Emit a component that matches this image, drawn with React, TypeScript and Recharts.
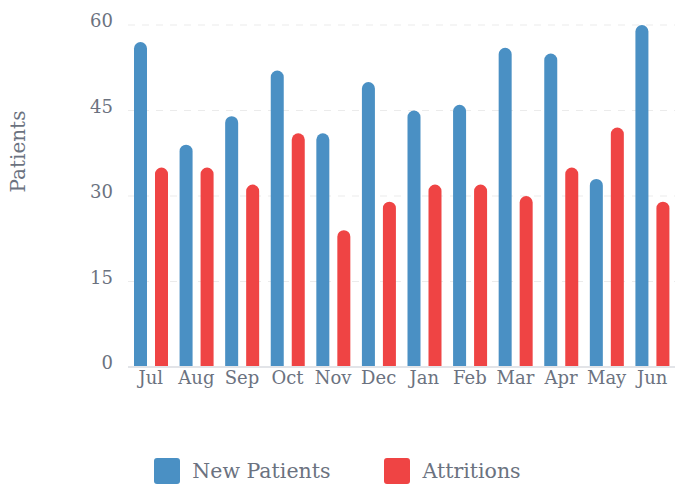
import { Bar, BarChart, CartesianGrid, Legend, XAxis, YAxis } from "recharts";

const months = ["Jul", "Aug", "Sep", "Oct", "Nov", "Dec", "Jan", "Feb", "Mar", "Apr", "May", "Jun"];
const newPatients = [57, 39, 44, 52, 41, 50, 45, 46, 56, 55, 33, 60];
const attritions = [35, 35, 32, 41, 24, 29, 32, 32, 30, 35, 42, 29];
const yTicks = [0, 15, 30, 45, 60];
const legendOrder = ["New Patients", "Attritions"];

const data = months.map((month, i) => ({
  month,
  newPatients: newPatients[i],
  attritions: attritions[i],
}));

const textColor = "#6b7280";
const font = "DejaVu Serif";

const renderLegend = (props: any) => {
  const payload = [...(props.payload || [])].sort(
    (a: any, b: any) => legendOrder.indexOf(a.value) - legendOrder.indexOf(b.value)
  );
  return (
    <div
      style={{
        height: 87,
        display: "flex",
        alignItems: "flex-end",
        justifyContent: "center",
        gap: 54,
        fontFamily: font,
      }}
    >
      {payload.map((entry: any) => (
        <div key={entry.value} style={{ display: "flex", alignItems: "center" }}>
          <span
            style={{
              width: 26,
              height: 26,
              borderRadius: 3,
              background: entry.color,
              marginRight: 12,
              display: "inline-block",
            }}
          />
          <span style={{ color: textColor, fontSize: 20.5 }}>{entry.value}</span>
        </div>
      ))}
    </div>
  );
};

const renderYLabel = (props: any) => {
  const { viewBox } = props;
  const x = viewBox.x + 18;
  const y = viewBox.y + viewBox.height * 0.37;
  return (
    <text
      x={x}
      y={y}
      transform={`rotate(-90 ${x} ${y})`}
      textAnchor="middle"
      dominantBaseline="central"
      fill={textColor}
      fontSize={20}
      fontFamily={font}
    >
      Patients
    </text>
  );
};

export default function App() {
  return (
    <div style={{ position: "absolute", left: 0, top: 0 }}>
      <BarChart
        width={677}
        height={484}
        data={data}
        margin={{ top: 25, right: 2, left: 0, bottom: 0 }}
        barSize={13}
        barGap={8}
      >
        <CartesianGrid vertical={false} stroke="#ebebeb" strokeDasharray="7 7" />
        <XAxis
          dataKey="month"
          tickLine={false}
          tickSize={0}
          tickMargin={4}
          axisLine={{ stroke: "#e2e4e8", strokeWidth: 2 }}
          tick={{ fill: textColor, fontSize: 18, fontFamily: font }}
          interval={0}
        />
        <YAxis
          width={128}
          ticks={yTicks}
          domain={[0, 60]}
          axisLine={false}
          tickLine={false}
          tickSize={0}
          tickMargin={15}
          tick={{ fill: textColor, fontSize: 18, fontFamily: font, dy: -4 }}
          label={renderYLabel}
        />
        <Legend verticalAlign="bottom" content={renderLegend} />
        <Bar
          dataKey="newPatients"
          name="New Patients"
          fill="#4a90c4"
          radius={[7, 7, 0, 0]}
          isAnimationActive={false}
        />
        <Bar
          dataKey="attritions"
          name="Attritions"
          fill="#ef4444"
          radius={[7, 7, 0, 0]}
          isAnimationActive={false}
        />
      </BarChart>
    </div>
  );
}
